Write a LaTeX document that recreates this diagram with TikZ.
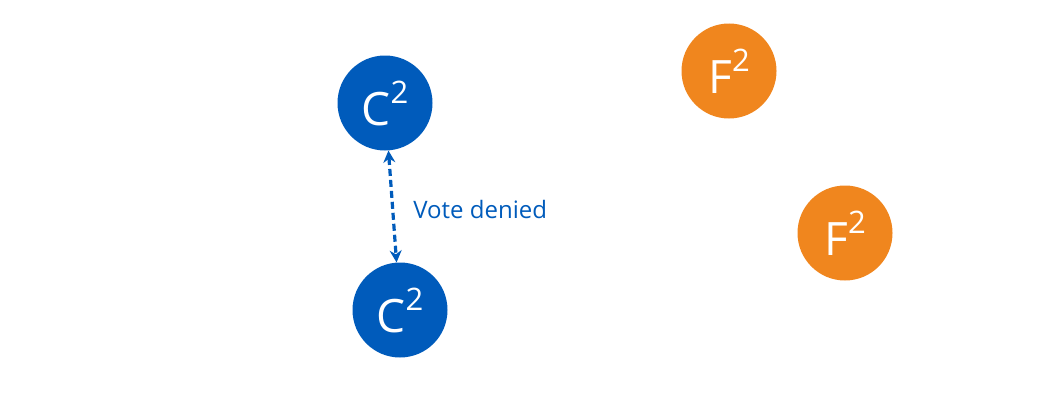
\documentclass[tikz,border=0pt]{standalone}
\usepackage{fontspec}
\setmainfont{Open Sans}
\usepackage{xcolor}
\usepackage{tikz}
\usetikzlibrary{arrows.meta}

\definecolor{candblue}{RGB}{0,91,187}
\definecolor{follorange}{RGB}{240,134,30}

% letter with a raised term number
\newcommand{\termof}[1]{#1\raisebox{22pt}{\fontsize{31}{31}\selectfont 2}}

\begin{document}
\begin{tikzpicture}[x=1pt,y=1pt,
		server/.style={circle,inner sep=0pt,minimum size=95pt,text=white,font=\fontsize{46}{46}\selectfont},
		cand/.style={server,fill=candblue},
		foll/.style={server,fill=follorange}]
		\useasboundingbox (0,0) rectangle (1048,392);
		\node[cand] (C1) at (385,289) {\termof{C}};
		\node[cand] (C2) at (400,82) {\termof{C}};
		\node[foll] (F1) at (729,321) {\termof{F}};
		\node[foll] (F2) at (845,159) {\termof{F}};
		%
		\path[{Stealth[length=12pt,width=12pt]}-{Stealth[length=12pt,width=12pt]},candblue,line width=3.2pt,dash pattern=on 7pt off 4pt]
		(C1) edge node[right=16pt,yshift=-3pt,font=\fontsize{24}{24}\selectfont,text=candblue]{Vote denied} (C2);
\end{tikzpicture}
\end{document}
